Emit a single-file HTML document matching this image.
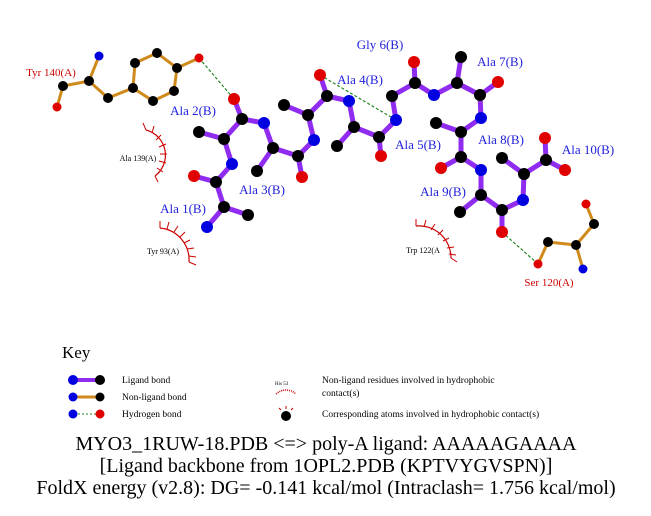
<!DOCTYPE html>
<html><head><style>body{margin:0;background:#fff}svg text{font-family:"Liberation Serif",serif}</style></head><body>
<svg width="651" height="511" xmlns="http://www.w3.org/2000/svg">
<g stroke="#d08a1c" stroke-width="3" fill="none">
<path d="M99,56 L89,81 L63,86 L57,107 M89,81 L108,98 L133,88 L135,63 L157,53 L177,68 L174,91 L153,101 L133,88 M177,68 L199,58"/>
<path d="M538,264 L548,242 L576,245 L583,269 M576,245 L594,224 L586,204"/>
</g>
<g stroke="#228822" stroke-width="1.2" stroke-dasharray="3,2">
<line x1="199" y1="58" x2="234" y2="99"/><line x1="320" y1="75" x2="396" y2="120"/><line x1="502" y1="232" x2="538" y2="264"/>
</g>
<g stroke="#8f2cf0" stroke-width="5" fill="none" stroke-linejoin="round">
<path d="M234,99 L242,119 L264,123 L273,148 L298,156 L314,140 L308,115 L327,96 L349,101 L354,127 L379,137 L396,120 L392,96 L415,83 L434,95 L457,83 L480,95 L481,118 L461,132 L461,157 L481,170 L481,195 L502,210 L523,200 L524,174 L546,160 L545,138 M546,160 L565,170"/>
<path d="M242,119 L224,139 L199,132 M224,139 L232,164 L216,182 L194,176 M216,182 L224,207 L248,215 M224,207 L207,227 M273,148 L257,171 M298,156 L302,177 M308,115 L284,105 M327,96 L320,75 M354,127 L337,146 M379,137 L381,156 M415,83 L414,62 M457,83 L461,57 M480,95 L498,82 M461,132 L436,123 M461,157 L441,168 M481,195 L460,212 M502,210 L502,232 M524,174 L502,158"/>
</g>
<g stroke="#c00" stroke-width="1.2" fill="none">
<path d="M146,130 A26,26 0 0 1 155,176" />
<path d="M160,228 A32,32 0 0 1 189,262" />
<path d="M416,226 A32,32 0 0 1 451,258" />
</g>
<g stroke="#c00" stroke-width="1">
<path d="M146,130 l-3,-7 M152,133 l2,-7 M156,140 l5,-5 M159,147 l7,-3 M160,154 l7,0 M159,161 l7,2 M157,168 l6,4 M155,176 l3,6"/>
<path d="M160,228 l0,-7 M167,229 l2,-7 M174,232 l4,-6 M180,237 l5,-5 M184,243 l6,-3 M187,249 l7,-1 M189,256 l7,1 M189,262 l7,3"/>
<path d="M416,226 l0,-7 M424,227 l2,-7 M431,230 l4,-6 M438,235 l5,-5 M443,241 l6,-3 M447,248 l7,-1 M449,254 l7,1 M451,258 l6,4"/>
</g>
<g stroke="none">
<g fill="#000"><circle cx="89" cy="81" r="5"/><circle cx="63" cy="86" r="5"/><circle cx="108" cy="98" r="5"/><circle cx="133" cy="88" r="5"/><circle cx="135" cy="63" r="5"/><circle cx="157" cy="53" r="5"/><circle cx="177" cy="68" r="5"/><circle cx="174" cy="91" r="5"/><circle cx="153" cy="101" r="5"/><circle cx="548" cy="242" r="5"/><circle cx="576" cy="245" r="5"/><circle cx="594" cy="224" r="5"/></g>
<g fill="#0000e0"><circle cx="99" cy="56" r="4.5"/><circle cx="583" cy="269" r="4.5"/></g>
<g fill="#e00000"><circle cx="57" cy="107" r="4.5"/><circle cx="199" cy="58" r="4.5"/><circle cx="538" cy="264" r="4.5"/><circle cx="586" cy="204" r="4.5"/></g>
<g fill="#000"><circle cx="242" cy="119" r="6"/><circle cx="224" cy="139" r="6"/><circle cx="199" cy="132" r="6"/><circle cx="216" cy="182" r="6"/><circle cx="224" cy="207" r="6"/><circle cx="248" cy="215" r="6"/><circle cx="273" cy="148" r="6"/><circle cx="257" cy="171" r="6"/><circle cx="298" cy="156" r="6"/><circle cx="308" cy="115" r="6"/><circle cx="284" cy="105" r="6"/><circle cx="327" cy="96" r="6"/><circle cx="354" cy="127" r="6"/><circle cx="337" cy="146" r="6"/><circle cx="379" cy="137" r="6"/><circle cx="392" cy="96" r="6"/><circle cx="415" cy="83" r="6"/><circle cx="457" cy="83" r="6"/><circle cx="461" cy="57" r="6"/><circle cx="480" cy="95" r="6"/><circle cx="461" cy="132" r="6"/><circle cx="436" cy="123" r="6"/><circle cx="461" cy="157" r="6"/><circle cx="481" cy="195" r="6"/><circle cx="460" cy="212" r="6"/><circle cx="502" cy="210" r="6"/><circle cx="524" cy="174" r="6"/><circle cx="502" cy="158" r="6"/><circle cx="546" cy="160" r="6"/></g>
<g fill="#0000e0"><circle cx="264" cy="123" r="6"/><circle cx="232" cy="164" r="6"/><circle cx="207" cy="227" r="6"/><circle cx="314" cy="140" r="6"/><circle cx="349" cy="101" r="6"/><circle cx="396" cy="120" r="6"/><circle cx="434" cy="95" r="6"/><circle cx="481" cy="118" r="6"/><circle cx="481" cy="170" r="6"/><circle cx="523" cy="200" r="6"/></g>
<g fill="#e00000"><circle cx="234" cy="99" r="6"/><circle cx="194" cy="176" r="6"/><circle cx="302" cy="177" r="6"/><circle cx="320" cy="75" r="6"/><circle cx="381" cy="156" r="6"/><circle cx="414" cy="62" r="6"/><circle cx="498" cy="82" r="6"/><circle cx="441" cy="168" r="6"/><circle cx="502" cy="232" r="6"/><circle cx="545" cy="138" r="6"/><circle cx="565" cy="170" r="6"/></g>
</g>
<g fill="#2222dd" font-size="13" text-anchor="middle">
<text x="193" y="115">Ala 2(B)</text><text x="262" y="194">Ala 3(B)</text><text x="183" y="213">Ala 1(B)</text>
<text x="380" y="49">Gly 6(B)</text><text x="360" y="84">Ala 4(B)</text><text x="500" y="66">Ala 7(B)</text><text x="418" y="149">Ala 5(B)</text><text x="501" y="144">Ala 8(B)</text><text x="588" y="154">Ala 10(B)</text><text x="443" y="196">Ala 9(B)</text>
</g>
<g fill="#c00" font-size="11" text-anchor="middle"><text x="51" y="76">Tyr 140(A)</text><text x="549" y="286">Ser 120(A)</text></g>
<g fill="#000" font-size="8" text-anchor="middle"><text x="138" y="161">Ala 139(A)</text><text x="163" y="254">Tyr 93(A)</text><text x="423" y="253">Trp 122(A</text></g>
<text x="62" y="358" font-size="17">Key</text>
<line x1="74" y1="380" x2="100" y2="380" stroke="#8f2cf0" stroke-width="4"/>
<line x1="74" y1="397" x2="100" y2="397" stroke="#d08a1c" stroke-width="3"/>
<line x1="74" y1="414" x2="100" y2="414" stroke="#228822" stroke-width="1" stroke-dasharray="2,2"/>
<circle cx="73" cy="380" r="5" fill="#0000e0"/><circle cx="100" cy="380" r="5" fill="#000"/>
<circle cx="73" cy="397" r="4.5" fill="#0000e0"/><circle cx="100" cy="397" r="4.5" fill="#000"/>
<circle cx="73" cy="414" r="4.5" fill="#0000e0"/><circle cx="100" cy="414" r="4.5" fill="#e00000"/>
<g font-size="9.5" fill="#000"><text x="122" y="383">Ligand bond</text><text x="122" y="400">Non-ligand bond</text><text x="122" y="417">Hydrogen bond</text>
<text x="322" y="383">Non-ligand residues involved in hydrophobic</text><text x="322" y="396">contact(s)</text><text x="322" y="417">Corresponding atoms involved in hydrophobic contact(s)</text>
<text x="275" y="385" font-size="5">His 53</text></g>
<path d="M276,394 Q286,386 296,394" stroke="#c00" fill="none" stroke-width="1.5" stroke-dasharray="1,1"/>
<circle cx="286" cy="416" r="5" fill="#000"/><path d="M281,410 l-2,-2 M286,409 l0,-3 M291,410 l2,-2" stroke="#c00"/>
<g font-size="20" fill="#000" text-anchor="middle"><text x="326" y="450">MYO3_1RUW-18.PDB &lt;=&gt; poly-A ligand: AAAAAGAAAA</text><text x="326" y="472">[Ligand backbone from 1OPL2.PDB (KPTVYGVSPN)]</text><text x="326" y="494">FoldX energy (v2.8): DG= -0.141 kcal/mol (Intraclash= 1.756 kcal/mol)</text></g>
</svg>
</body></html>
